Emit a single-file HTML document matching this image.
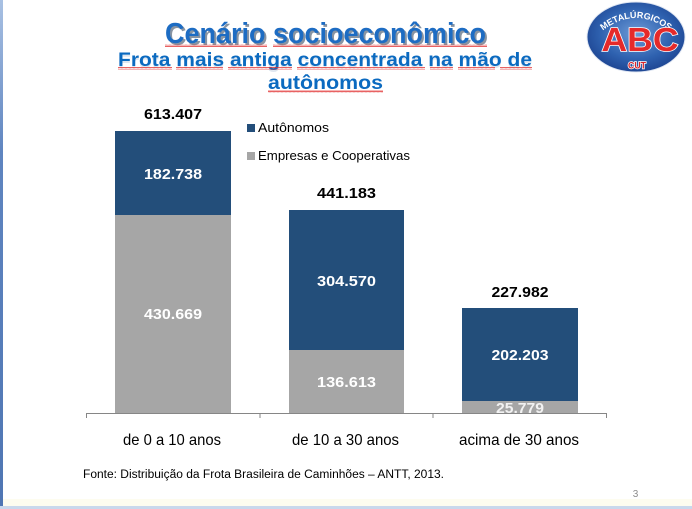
<!DOCTYPE html>
<html><head><meta charset="utf-8"><style>
html,body{margin:0;padding:0;background:#fff;}
svg{display:block;}
</style></head><body>
<svg width="692" height="509" viewBox="0 0 692 509" xmlns="http://www.w3.org/2000/svg">
<defs>
<pattern id="wv" width="4" height="3" patternUnits="userSpaceOnUse">
<path d="M0 2.2 L1 0.6 L2 2.2 L3 0.6 L4 2.2" stroke="#e03030" stroke-width="0.7" fill="none"/>
</pattern>
<radialGradient id="lg" cx="0.5" cy="0.45" r="0.6">
<stop offset="0" stop-color="#6d9ad6"/>
<stop offset="0.6" stop-color="#2f62b0"/>
<stop offset="1" stop-color="#1a3f8c"/>
</radialGradient>
<linearGradient id="lb" x1="0" y1="0" x2="0" y2="1">
<stop offset="0" stop-color="#a9c1e3"/>
<stop offset="0.3" stop-color="#5f85c0"/>
<stop offset="1" stop-color="#4f76b3"/>
</linearGradient>
<path id="arc" d="M601 32 Q636 4 671 32"/>
<clipPath id="c3"><rect x="462" y="401" width="116" height="12"/></clipPath>
</defs>
<rect width="692" height="509" fill="#fff"/>
<rect x="0" y="0" width="3" height="507" fill="url(#lb)"/>
<rect x="3" y="499" width="689" height="7" fill="#fdfcef"/>
<rect x="0" y="506" width="692" height="3" fill="#c9d8ec"/>

<!-- Title -->
<g font-family="'Liberation Sans', Arial, sans-serif" font-weight="bold" text-anchor="start">
<text x="167" y="45" font-size="29" fill="#6b7a8c" opacity="0.8" textLength="321" lengthAdjust="spacingAndGlyphs">Cenário socioeconômico</text>
<text x="165" y="43" font-size="29" fill="#1d6cc3" textLength="321" lengthAdjust="spacingAndGlyphs">Cenário socioeconômico</text>
<text x="118" y="68" font-size="19.5" fill="#c9d6e6" opacity="0.6" textLength="414" lengthAdjust="spacingAndGlyphs">Frota mais antiga concentrada na mão de</text>
<text x="118" y="66" font-size="19.5" fill="#0b6ac0" textLength="414" lengthAdjust="spacingAndGlyphs">Frota mais antiga concentrada na mão de</text>
<text x="268" y="89" font-size="19.5" fill="#0b6ac0" textLength="115" lengthAdjust="spacingAndGlyphs">autônomos</text>
</g>
<g fill="url(#wv)">
<rect x="165" y="44" width="102" height="3"/>
<rect x="273" y="44" width="214" height="3"/>
<rect x="118" y="67" width="54" height="3"/>
<rect x="176" y="67" width="47" height="3"/>
<rect x="228" y="67" width="64" height="3"/>
<rect x="297" y="67" width="128" height="3"/>
<rect x="430" y="67" width="23" height="3"/>
<rect x="458" y="67" width="37" height="3"/>
<rect x="500" y="67" width="32" height="3"/>
<rect x="268" y="90" width="115" height="3"/>
</g>

<!-- Logo -->
<ellipse cx="636" cy="37" rx="49" ry="35" fill="url(#lg)" stroke="#dfe6f2" stroke-width="1"/>
<text font-family="'Liberation Sans', Arial, sans-serif" font-weight="bold" font-size="9" fill="#fff"><textPath href="#arc" startOffset="50%" text-anchor="middle">METALÚRGICOS</textPath></text>
<text x="640" y="51" text-anchor="middle" font-family="'Liberation Sans', Arial, sans-serif" font-weight="bold" font-size="33" fill="#e52a2a" stroke="#fff" stroke-width="1.5" paint-order="stroke" textLength="77" lengthAdjust="spacingAndGlyphs">ABC</text>
<text x="637" y="68.5" text-anchor="middle" font-family="'Liberation Sans', Arial, sans-serif" font-weight="bold" font-size="9" fill="#d8262b" stroke="#fff" stroke-width="1.5" paint-order="stroke" textLength="18" lengthAdjust="spacingAndGlyphs">CUT</text>

<!-- Bars -->
<rect x="115" y="131" width="116" height="84" fill="#234e7a"/>
<rect x="115" y="215" width="116" height="198" fill="#a6a6a6"/>
<rect x="289" y="210" width="115" height="140" fill="#234e7a"/>
<rect x="289" y="350" width="115" height="63" fill="#a6a6a6"/>
<rect x="462" y="308" width="116" height="93" fill="#234e7a"/>
<rect x="462" y="401" width="116" height="12" fill="#a6a6a6"/>

<!-- Axis -->
<g stroke="#868686" stroke-width="1">
<line x1="86" y1="413.5" x2="607" y2="413.5"/>
<line x1="86.5" y1="413" x2="86.5" y2="418"/>
<line x1="260" y1="413" x2="260" y2="418"/>
<line x1="433" y1="413" x2="433" y2="418"/>
<line x1="606.5" y1="413" x2="606.5" y2="418"/>
</g>

<!-- Legend -->
<rect x="247" y="124" width="8" height="8" fill="#234e7a"/>
<rect x="247" y="152" width="8" height="8" fill="#a6a6a6"/>
<g font-family="'Liberation Sans', Arial, sans-serif" font-size="13" fill="#000">
<text x="258" y="132" textLength="71" lengthAdjust="spacingAndGlyphs">Autônomos</text>
<text x="258" y="160" textLength="152" lengthAdjust="spacingAndGlyphs">Empresas e Cooperativas</text>
</g>

<!-- Value labels -->
<g font-family="'Liberation Sans', Arial, sans-serif" font-weight="bold" font-size="15" text-anchor="middle">
<text x="173" y="119" fill="#000" textLength="58" lengthAdjust="spacingAndGlyphs">613.407</text>
<text x="346.5" y="198" fill="#000" textLength="59" lengthAdjust="spacingAndGlyphs">441.183</text>
<text x="520" y="297" fill="#000" textLength="57" lengthAdjust="spacingAndGlyphs">227.982</text>
<text x="173" y="179" fill="#fff" textLength="58" lengthAdjust="spacingAndGlyphs">182.738</text>
<text x="173" y="319" fill="#fff" textLength="58" lengthAdjust="spacingAndGlyphs">430.669</text>
<text x="346.5" y="286" fill="#fff" textLength="59" lengthAdjust="spacingAndGlyphs">304.570</text>
<text x="346.5" y="387" fill="#fff" textLength="59" lengthAdjust="spacingAndGlyphs">136.613</text>
<text x="520" y="360" fill="#fff" textLength="57" lengthAdjust="spacingAndGlyphs">202.203</text>
<text x="520" y="413" fill="#f2f2f2" clip-path="url(#c3)" textLength="48" lengthAdjust="spacingAndGlyphs">25.779</text>
</g>

<!-- Category labels -->
<g font-family="'Liberation Sans', Arial, sans-serif" font-size="16" fill="#000">
<text x="123" y="445" textLength="98" lengthAdjust="spacingAndGlyphs">de 0 a 10 anos</text>
<text x="292" y="445" textLength="107" lengthAdjust="spacingAndGlyphs">de 10 a 30 anos</text>
<text x="459" y="445" textLength="120" lengthAdjust="spacingAndGlyphs">acima de 30 anos</text>
</g>

<!-- Source -->
<text x="83" y="478" font-family="'Liberation Sans', Arial, sans-serif" font-size="11.5" fill="#000" textLength="361" lengthAdjust="spacingAndGlyphs">Fonte: Distribuição da Frota Brasileira de Caminhões – ANTT, 2013.</text>

<!-- Page number -->
<text x="635.5" y="497" text-anchor="middle" font-family="'Liberation Sans', Arial, sans-serif" font-size="10" fill="#8c8c8c">3</text>
</svg>
</body></html>
